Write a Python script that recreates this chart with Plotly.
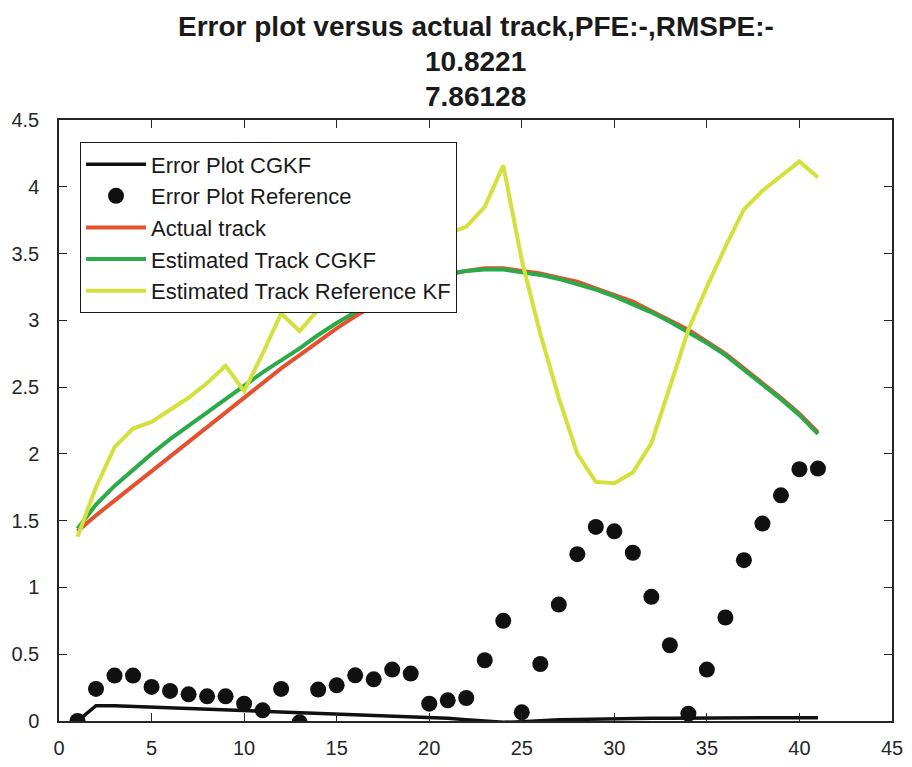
import plotly.graph_objects as go

# sample index 1..41
steps = list(range(1, 42))

err_cgkf = [0.0, 0.115, 0.115, 0.11, 0.105, 0.1, 0.095, 0.09, 0.085, 0.08,
            0.075, 0.07, 0.065, 0.06, 0.055, 0.05, 0.045, 0.04, 0.035, 0.03,
            0.02, 0.01, 0.0, -0.01, -0.005, 0.005, 0.01, 0.012, 0.015, 0.015,
            0.018, 0.02, 0.02, 0.022, 0.022, 0.024, 0.025, 0.025, 0.025, 0.025, 0.025]

err_ref = [0.0, 0.24, 0.34, 0.34, 0.255, 0.225, 0.2, 0.185, 0.185, 0.13,
           0.08, 0.24, -0.01, 0.235, 0.267, 0.342, 0.312, 0.385, 0.355, 0.13,
           0.155, 0.172, 0.455, 0.75, 0.065, 0.427, 0.872, 1.249, 1.453, 1.42,
           1.26, 0.93, 0.567, 0.055, 0.385, 0.775, 1.204, 1.478, 1.69, 1.885, 1.89]

actual = [1.42, 1.54, 1.65, 1.76, 1.87, 1.98, 2.09, 2.20, 2.31, 2.42,
          2.53, 2.64, 2.74, 2.84, 2.94, 3.03, 3.11, 3.18, 3.25, 3.30,
          3.34, 3.37, 3.39, 3.39, 3.37, 3.35, 3.32, 3.29, 3.24, 3.19,
          3.14, 3.07, 3.00, 2.93, 2.84, 2.75, 2.64, 2.53, 2.42, 2.30, 2.16]

est_cgkf = [1.44, 1.62, 1.76, 1.88, 2.00, 2.11, 2.21, 2.31, 2.41, 2.51,
            2.61, 2.70, 2.79, 2.89, 2.98, 3.06, 3.14, 3.20, 3.26, 3.31,
            3.35, 3.37, 3.38, 3.38, 3.36, 3.34, 3.31, 3.27, 3.23, 3.18,
            3.12, 3.06, 2.99, 2.91, 2.83, 2.74, 2.63, 2.52, 2.41, 2.29, 2.15]

est_ref = [1.38, 1.75, 2.05, 2.19, 2.24, 2.33, 2.42, 2.53, 2.66, 2.47,
           2.75, 3.05, 2.92, 3.08, 3.25, 3.35, 3.45, 3.5, 3.55, 3.6,
           3.65, 3.7, 3.85, 4.16, 3.45, 2.90, 2.42, 2.0, 1.79, 1.78,
           1.86, 2.08, 2.50, 2.93, 3.25, 3.55, 3.83, 3.97, 4.08, 4.19, 4.07]

title_lines = ["Error plot versus actual track,PFE:-,RMSPE:-", "10.8221", "7.86128"]
x_ticks = [0, 5, 10, 15, 20, 25, 30, 35, 40, 45]
y_ticks = [0, 0.5, 1, 1.5, 2, 2.5, 3, 3.5, 4, 4.5]

AX = "#262626"

fig = go.Figure()
fig.add_trace(go.Scatter(x=steps, y=err_cgkf, mode="lines", name="Error Plot CGKF",
                         line=dict(color="#111111", width=3.5)))
fig.add_trace(go.Scatter(x=steps, y=err_ref, mode="markers", name="Error Plot Reference",
                         marker=dict(color="#111111", size=16)))
fig.add_trace(go.Scatter(x=steps, y=actual, mode="lines", name="Actual track",
                         line=dict(color="#E4512F", width=4)))
fig.add_trace(go.Scatter(x=steps, y=est_cgkf, mode="lines", name="Estimated Track CGKF",
                         line=dict(color="#2BAA4A", width=4)))
fig.add_trace(go.Scatter(x=steps, y=est_ref, mode="lines", name="Estimated Track Reference KF",
                         line=dict(color="#D4E03C", width=4)))

# three-line bold title, placed line by line above the axes
title_font = dict(family="Liberation Sans, Arial", size=28, color="#1a1a1a")
for i, txt in enumerate(title_lines):
    fig.add_annotation(text="<b>%s</b>" % txt, xref="paper", yref="paper",
                       x=0.5, y=1 + (93 - 34.5 * i) / 601, xanchor="center", yanchor="middle",
                       showarrow=False, font=title_font)

axis_common = dict(showline=True, linecolor=AX, linewidth=1.5, mirror="allticks",
                   ticks="inside", ticklen=8, tickcolor=AX, tickwidth=1.2,
                   showgrid=False, zeroline=False, automargin=False,
                   tickfont=dict(family="Liberation Sans, Arial", size=20, color=AX))

fig.update_xaxes(range=[0, 45], tickvals=x_ticks, ticklabelstandoff=8, **axis_common)
fig.update_yaxes(range=[0, 4.5], tickvals=y_ticks, ticklabelstandoff=14, **axis_common)

# the page adds an 8px body margin, so the figure is a bit smaller than the window
fig.update_layout(
    width=904, height=759,
    margin=dict(l=51, r=20, t=112, b=46, autoexpand=False),
    plot_bgcolor="white", paper_bgcolor="white",
    showlegend=True,
    legend=dict(x=0.025, y=0.963, xanchor="left", yanchor="top",
                bgcolor="white", bordercolor="#1a1a1a", borderwidth=1.2,
                font=dict(family="Liberation Sans, Arial", size=22, color="#1a1a1a"),
                itemwidth=60, tracegroupgap=0),
)

fig.write_html("out.html")
